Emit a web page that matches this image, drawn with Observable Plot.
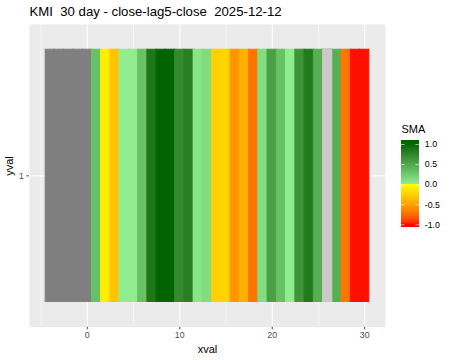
<!DOCTYPE html>
<html>
<head>
<meta charset="utf-8">
<script src="https://cdn.jsdelivr.net/npm/d3@7"></script>
<script src="https://cdn.jsdelivr.net/npm/@observablehq/plot@0.6"></script>
<style>
  body { margin: 0; background: white; }
  #wrap { position: relative; width: 450px; height: 360px; font-family: "Liberation Sans", Arial, sans-serif; }
  #legend { position: absolute; left: 385px; top: 110px; }
</style>
</head>
<body>
<div id="wrap"><div id="main"></div><div id="legend"></div></div>
<script>
// ---- data ----
const title = "KMI  30 day - close-lag5-close  2025-12-12";
const xval = [-4, -3, -2, -1, 0, 1, 2, 3, 4, 5, 6, 7, 8, 9, 10, 11, 12, 13, 14, 15,
              16, 17, 18, 19, 20, 21, 22, 23, 24, 25, 26, 27, 28, 29, 30];
const sma  = [null, null, null, null, null,
              0.31, -0.10, -0.33, 0.00, 0.01, 0.31, 0.86, 1.00, 1.00, 0.71,
              0.79, 0.06, 0.12, -0.25, -0.23, -0.56, -0.43, -0.71, 0.11, 0.55,
              0.31, 0.01, 0.63, 0.83, 0.44, null, 0.44, -0.71, -0.99, -0.99];
const flatDays = [26];
const xTicks = [0, 10, 20, 30];
const xMinor = [-5, 5, 15, 25];
const yTicks = [1];
const legendBreaks = [1, 0.5, 0, -0.5, -1];
const legendLabels = ["1.0", "0.5", "0.0", "-0.5", "-1.0"];

const rows = xval.map((x, i) => ({x, sma: sma[i]}));
const flatRows = flatDays.map(x => ({x}));

const colorOpts = {
  type: "linear",
  domain: [-1, -1e-9, 0, 1],
  range: ["#ff0000", "#ffff00", "#90ee90", "#006400"],
  interpolate: "lab",
  clamp: true,
  unknown: "#7f7f7f"
};

const font = "'Liberation Sans', Arial, sans-serif";

const main = Plot.plot({
  width: 450,
  height: 360,
  marginTop: 24,
  marginBottom: 33.3,
  marginLeft: 29,
  marginRight: 65,
  style: {fontFamily: font, background: "white", overflow: "visible"},
  x: {domain: [-6.25, 32.25]},
  y: {domain: [0.4, 1.6]},
  color: colorOpts,
  marks: [
    Plot.frame({fill: "#ebebeb"}),
    Plot.gridX(xMinor, {stroke: "white", strokeOpacity: 1, strokeWidth: 0.55}),
    Plot.gridX(xTicks, {stroke: "white", strokeOpacity: 1, strokeWidth: 1.1}),
    Plot.gridY(yTicks, {stroke: "white", strokeOpacity: 1, strokeWidth: 1.1}),
    Plot.rect(rows, {x1: d => d.x - 0.5, x2: d => d.x + 0.5, y1: 0.5, y2: 1.5,
                     fill: "sma", stroke: "sma", strokeWidth: 1}),
    Plot.rect(flatRows, {x1: d => d.x - 0.5, x2: d => d.x + 0.5, y1: 0.5, y2: 1.5,
                         fill: "#cdc9c9", stroke: "#cdc9c9", strokeWidth: 1}),
    Plot.axisX({ticks: xTicks, tickSize: 2.7, tickPadding: 2.2, fontSize: 8.8,
                color: "#4d4d4d", label: null, tickFormat: d => String(d)}),
    Plot.axisY({ticks: yTicks, tickSize: 2.7, tickPadding: 3, fontSize: 8.8,
                color: "#4d4d4d", label: null, tickFormat: d => String(d)}),
    Plot.text([title], {frameAnchor: "top-left", dy: -12.3, textAnchor: "start",
                        lineAnchor: "middle", fontSize: 13.2, fill: "black"}),
    Plot.text(["xval"], {frameAnchor: "bottom", dy: 22.1, lineAnchor: "middle",
                         fontSize: 11, fill: "black"}),
    Plot.text(["yval"], {frameAnchor: "left", dx: -19.8, rotate: -90, lineAnchor: "middle",
                         fontSize: 11, fill: "black"})
  ]
});
document.getElementById("main").appendChild(main);

// ---- legend (colorbar) ----
const barTop = 1.1, barBottom = -1.06, step = 0.004;
const strips = d3.range(barBottom, barTop, step).map(v => ({v}));
const legend = Plot.plot({
  width: 65,
  height: 130,
  marginTop: 34,
  marginBottom: 15.7,
  marginLeft: 16,
  marginRight: 31,
  style: {fontFamily: font, background: "transparent", overflow: "visible"},
  x: {domain: [0, 1], axis: null},
  y: {domain: [-1, 1], axis: null},
  color: colorOpts,
  marks: [
    Plot.rect(strips, {x1: 0, x2: 1, y1: d => d.v, y2: d => Math.min(d.v + step * 2, barTop),
                       fill: d => d.v + step / 2, shapeRendering: "crispEdges"}),
    Plot.ruleY(legendBreaks, {x1: 0, x2: 0.2, stroke: "white", strokeWidth: 0.6}),
    Plot.ruleY(legendBreaks, {x1: 0.8, x2: 1, stroke: "white", strokeWidth: 0.6}),
    Plot.text(legendBreaks, {x: 1, y: d => d, text: (d, i) => legendLabels[i], dx: 5.3,
                             textAnchor: "start", lineAnchor: "middle", fontSize: 8.8, fill: "black"}),
    Plot.text(["SMA"], {frameAnchor: "top-left", dy: -14.8, textAnchor: "start",
                        lineAnchor: "middle", fontSize: 11, fill: "black"})
  ]
});
document.getElementById("legend").appendChild(legend);
</script>
</body>
</html>
